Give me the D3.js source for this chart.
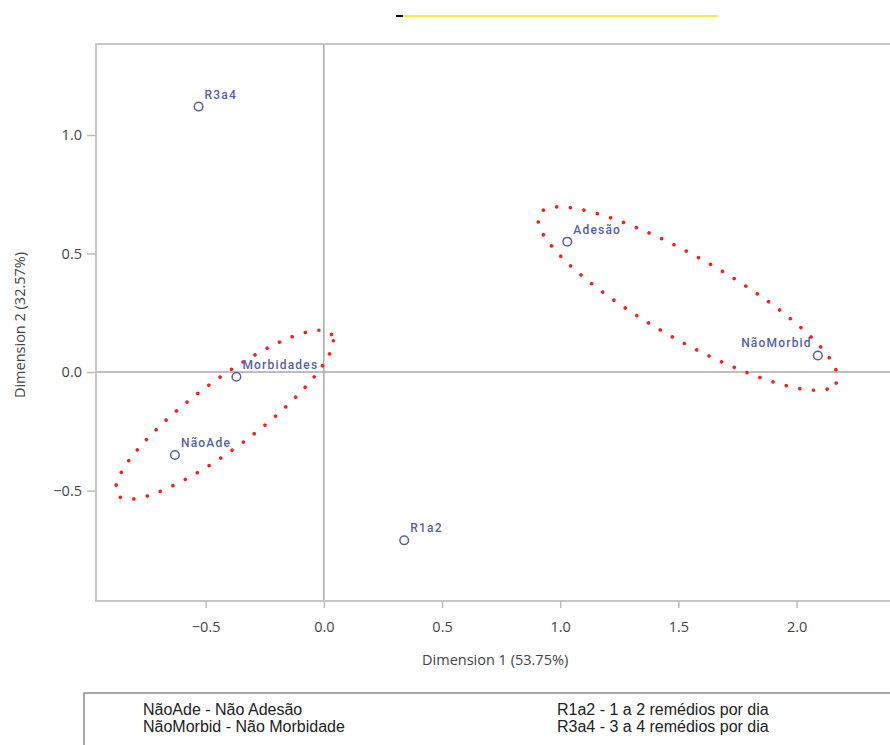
<!DOCTYPE html>
<html>
  <head>
    <style>
      body { margin: 0; background: #fff; overflow: hidden; }
      svg { display: block; }
    </style>
  </head>

  <body>

    <svg class="surface" width="890" height="745"></svg>

    <script src="https://cdn.jsdelivr.net/npm/d3@7/dist/d3.min.js" charset="utf-8"></script>
    <script>

      // category points (dimension 1, dimension 2)
      const labels = ['R3a4', 'Adesão', 'NãoMorbid', 'Morbidades', 'NãoAde', 'R1a2']
      const dim1 = [-0.53, 1.03, 2.09, -0.37, -0.63, 0.34]
      const dim2 = [1.12, 0.55, 0.07, -0.02, -0.35, -0.71]
      const labelSide = ['right', 'right', 'left', 'right', 'right', 'right']

      // grouping ellipses: centre, semi-axes (data units), rotation in degrees
      const ellCx = [-0.42, 1.54]
      const ellCy = [-0.18, 0.31]
      const ellA = [0.565, 0.722]
      const ellB = [0.14, 0.173]
      const ellAngle = [36.8, -29.6]

      const xTicks = [-0.5, 0.0, 0.5, 1.0, 1.5, 2.0]
      const yTicks = [-0.5, 0.0, 0.5, 1.0]

      const legendLeft = ['NãoAde - Não Adesão', 'NãoMorbid - Não Morbidade']
      const legendRight = ['R1a2 - 1 a 2 remédios por dia', 'R3a4 - 3 a 4 remédios por dia']

      const svg = d3.select('.surface')
      const frame = { left: 96, top: 44, right: 920, bottom: 601 }

      const x = d3.scaleLinear().domain([-0.964, 2.408]).range([frame.left, 893])
      const y = d3.scaleLinear().domain([-0.966, 1.384]).range([frame.bottom, frame.top])

      const tickFont = '"Open Sans", sans-serif'
      const pointColor = '#5561a6'

      // cropped title remains at the top
      svg.append('line')
        .attr('x1', 402).attr('x2', 718).attr('y1', 16).attr('y2', 16)
        .attr('stroke', '#fbe94c').attr('stroke-width', 2)
      svg.append('line')
        .attr('x1', 396).attr('x2', 403).attr('y1', 16).attr('y2', 16)
        .attr('stroke', '#111').attr('stroke-width', 2)

      // zero reference lines
      svg.append('line')
        .attr('x1', x(0)).attr('x2', x(0)).attr('y1', frame.top).attr('y2', frame.bottom)
        .attr('stroke', '#a8a8a8').attr('stroke-width', 1.5)
      svg.append('line')
        .attr('x1', frame.left).attr('x2', frame.right).attr('y1', y(0)).attr('y2', y(0))
        .attr('stroke', '#a8a8a8').attr('stroke-width', 1.5)

      // frame (right side runs off the page)
      svg.append('rect')
        .attr('x', frame.left).attr('y', frame.top)
        .attr('width', frame.right - frame.left).attr('height', frame.bottom - frame.top)
        .attr('fill', 'none').attr('stroke', '#c6c6c6').attr('stroke-width', 2)

      // axes
      const xAxis = svg.append('g')
        .attr('transform', `translate(0,${frame.bottom})`)
        .call(d3.axisBottom(x).tickValues(xTicks).tickFormat(d3.format('.1f')).tickSize(7).tickPadding(14))
      const yAxis = svg.append('g')
        .attr('transform', `translate(${frame.left},0)`)
        .call(d3.axisLeft(y).tickValues(yTicks).tickFormat(d3.format('.1f')).tickSize(9).tickPadding(5))

      ;[xAxis, yAxis].forEach(g => {
        g.select('.domain').remove()
        g.selectAll('.tick line').attr('stroke', '#bbb').attr('stroke-width', 1.5)
        g.selectAll('.tick text')
          .attr('fill', '#444').style('font-family', tickFont).style('font-size', '14.5px')
      })

      svg.append('text')
        .attr('x', (x(-0.5) + x(2.0)) / 2 - 6).attr('y', 665)
        .attr('text-anchor', 'middle')
        .attr('fill', '#444').style('font-family', tickFont).style('font-size', '14.5px')
        .text('Dimension 1 (53.75%)')
      svg.append('text')
        .attr('transform', 'translate(25,325) rotate(-90)')
        .attr('text-anchor', 'middle')
        .attr('fill', '#444').style('font-family', tickFont).style('font-size', '14.5px')
        .text('Dimension 2 (32.57%)')

      // dotted ellipses
      const ellipses = ellCx.map((cx, i) => ({ cx, cy: ellCy[i], a: ellA[i], b: ellB[i], ang: ellAngle[i] }))
      const line = d3.line().x(d => x(d[0])).y(d => y(d[1])).curve(d3.curveLinearClosed)
      svg.selectAll('path.ell')
        .data(ellipses)
        .enter()
        .append('path')
        .attr('class', 'ell')
        .attr('d', e => {
          const r = e.ang * Math.PI / 180
          const pts = d3.range(0, 360, 2).map(t => {
            const u = t * Math.PI / 180
            const px = e.a * Math.cos(u), py = e.b * Math.sin(u)
            return [e.cx + px * Math.cos(r) - py * Math.sin(r), e.cy + px * Math.sin(r) + py * Math.cos(r)]
          })
          return line(pts)
        })
        .attr('fill', 'none')
        .attr('stroke', '#ff1a1a')
        .attr('stroke-width', 3.6)
        .attr('stroke-linecap', 'round')
        .attr('stroke-dasharray', '0.01 13.8')

      // category points
      const points = labels.map((name, i) => ({ name, x: dim1[i], y: dim2[i], side: labelSide[i] }))
      const pts = svg.selectAll('g.pt')
        .data(points)
        .enter()
        .append('g')
        .attr('class', 'pt')
        .attr('transform', d => `translate(${x(d.x)},${y(d.y)})`)

      pts.append('circle')
        .attr('r', 4.3)
        .attr('fill', 'none')
        .attr('stroke', pointColor)
        .attr('stroke-width', 1.5)

      pts.append('text')
        .attr('x', d => d.side === 'left' ? -6 : 6)
        .attr('y', -8)
        .attr('text-anchor', d => d.side === 'left' ? 'end' : 'start')
        .attr('fill', pointColor)
        .style('font-family', 'Roboto, sans-serif')
        .style('font-size', '12px')
        .style('font-weight', 500)
        .style('letter-spacing', '1.2px')
        .text(d => d.name)

      // legend box
      svg.append('path')
        .attr('d', 'M84,745 V693 H892')
        .attr('fill', 'none').attr('stroke', '#8c8c8c').attr('stroke-width', 1.5)

      const legendFont = '"Liberation Sans", Arial, sans-serif'
      svg.selectAll('text.legL')
        .data(legendLeft)
        .enter()
        .append('text')
        .attr('class', 'legL')
        .attr('x', 143).attr('y', (d, i) => 715 + i * 17)
        .attr('fill', '#222').style('font-family', legendFont).style('font-size', '16px')
        .text(d => d)
      svg.selectAll('text.legR')
        .data(legendRight)
        .enter()
        .append('text')
        .attr('class', 'legR')
        .attr('x', 557).attr('y', (d, i) => 715 + i * 17)
        .attr('fill', '#222').style('font-family', legendFont).style('font-size', '16px')
        .text(d => d)

    </script>
  </body>

</html>
